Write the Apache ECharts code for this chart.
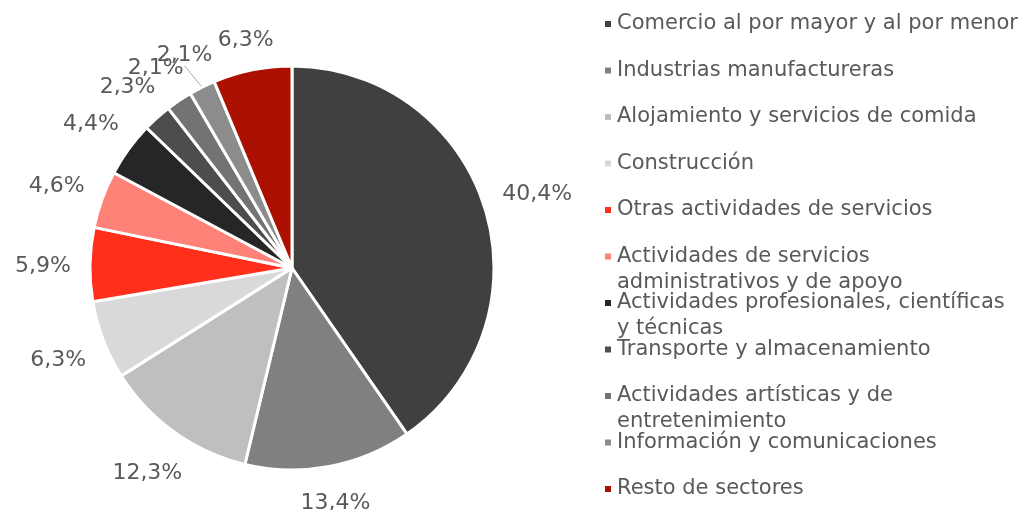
<!DOCTYPE html>
<html>
<head>
<meta charset="utf-8">
<script src="https://cdn.jsdelivr.net/npm/echarts@6/dist/echarts.min.js"></script>
<style>html,body{margin:0;padding:0;background:#fff;}#c{width:1029px;height:510px;}</style>
</head>
<body>
<div id="c"></div>
<script>
const categories = [
  'Comercio al por mayor y al por menor',
  'Industrias manufactureras',
  'Alojamiento y servicios de comida',
  'Construcción',
  'Otras actividades de servicios',
  'Actividades de servicios administrativos y de apoyo',
  'Actividades profesionales, científicas y técnicas',
  'Transporte y almacenamiento',
  'Actividades artísticas y de entretenimiento',
  'Información y comunicaciones',
  'Resto de sectores'
];
const legendLabels = [
  'Comercio al por mayor y al por menor',
  'Industrias manufactureras',
  'Alojamiento y servicios de comida',
  'Construcción',
  'Otras actividades de servicios',
  'Actividades de servicios\nadministrativos y de apoyo',
  'Actividades profesionales, científicas\ny técnicas',
  'Transporte y almacenamiento',
  'Actividades artísticas y de\nentretenimiento',
  'Información y comunicaciones',
  'Resto de sectores'
];
const values = [40.4, 13.4, 12.3, 6.3, 5.9, 4.6, 4.4, 2.3, 2.1, 2.1, 6.3];
const colors = ['#404040', '#808080', '#bfbfbf', '#d9d9d9', '#ff2f1b', '#ff8278',
                '#262626', '#4d4d4d', '#737373', '#8c8c8c', '#ab1000'];

const FONT = 'DejaVu Sans';
const TEXT = '#595959';
const LH = 26;
const CENTER = [292, 268];
const RADIUS = 202;
const LABEL_GAP = 19;

const legends = categories.map((name, i) => {
  const lines = legendLabels[i].split('\n').length;
  const c = 24 + i * 46.5;
  // multi-line entries: blank first line so the marker sits on the first text line
  const txt = lines === 1 ? legendLabels[i] : ' \n' + legendLabels[i];
  return {
    data: [name],
    orient: 'vertical',
    left: 603,
    top: lines === 1 ? c - LH / 2 : c - 1.5 * LH,
    icon: 'rect',
    itemWidth: 8,
    itemHeight: 8,
    padding: 0,
    selectedMode: false,
    formatter: () => txt,
    textStyle: {fontFamily: FONT, fontSize: 21, color: TEXT, lineHeight: LH}
  };
});

const total = values.reduce((a, b) => a + b, 0);
const cum = [];
values.reduce((acc, v, i) => { cum[i] = acc; return acc + v; }, 0);

const chart = echarts.init(document.getElementById('c'), null, {renderer: 'canvas'});
chart.setOption({
  animation: false,
  color: colors,
  legend: legends,
  series: [{
    type: 'pie',
    center: CENTER,
    radius: RADIUS,
    startAngle: 90,
    clockwise: true,
    avoidLabelOverlap: false,
    itemStyle: {borderColor: '#fff', borderWidth: 3},
    label: {
      show: true,
      position: 'outside',
      fontFamily: FONT,
      fontSize: 22,
      color: TEXT,
      formatter: p => p.value.toFixed(1).replace('.', ',') + '%'
    },
    labelLine: {show: false, length: 12, length2: 0},
    labelLayout: function (p) {
      const i = p.dataIndex;
      const a = (cum[i] + values[i] / 2) / total * Math.PI * 2;
      const dx = Math.sin(a), dy = -Math.cos(a);
      const w = p.labelRect.width, h = p.labelRect.height;
      const d = RADIUS + LABEL_GAP + Math.abs(dx) * w / 2 + Math.abs(dy) * h * 0.4;
      return {x: CENTER[0] + dx * d, y: CENTER[1] + dy * d + 3, align: 'center', verticalAlign: 'middle'};
    },
    data: categories.map((name, i) => {
      const d = {name: name, value: values[i]};
      if (i === 9) d.labelLine = {show: true, length: 14, length2: 0, lineStyle: {color: '#a6a6a6', width: 1}};
      return d;
    })
  }]
});
</script>
</body>
</html>
